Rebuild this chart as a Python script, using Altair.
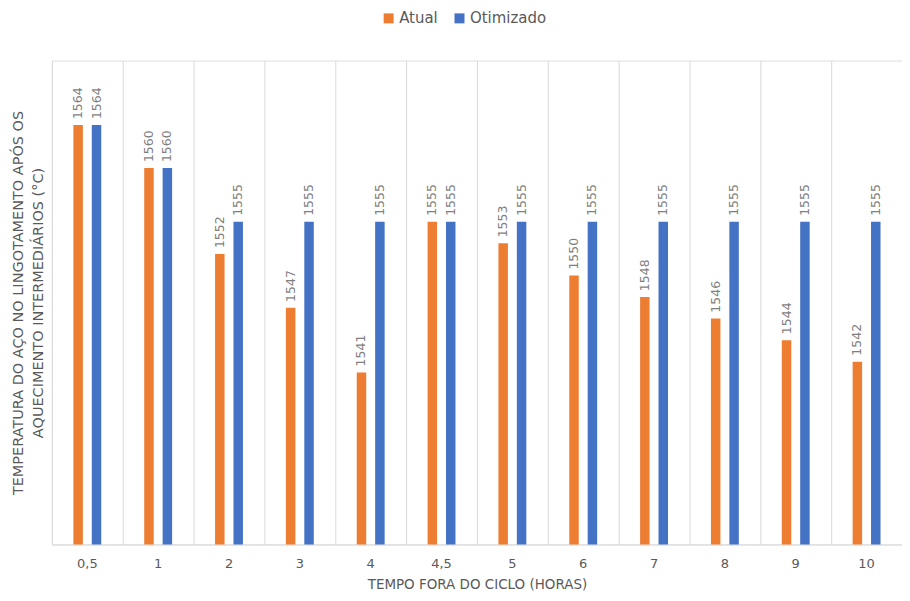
import altair as alt
import pandas as pd

categories = ["0,5", "1", "2", "3", "4", "4,5", "5", "6", "7", "8", "9", "10"]
atual = [1564, 1560, 1552, 1547, 1541, 1555, 1553, 1550, 1548, 1546, 1544, 1542]
otimizado = [1564, 1560, 1555, 1555, 1555, 1555, 1555, 1555, 1555, 1555, 1555, 1555]
series = ["Atual", "Otimizado"]
colors = ["#ED7D31", "#4472C4"]
y_min, y_max = 1525, 1570

rows = []
for i, c in enumerate(categories):
    rows.append({"cat": c, "serie": "Atual", "val": atual[i]})
    rows.append({"cat": c, "serie": "Otimizado", "val": otimizado[i]})
df = pd.DataFrame(rows)

STEP = 71
H = 485
FONT = "DejaVu Sans"
GRAY = "#595959"

x_enc = alt.X(
    "cat:N",
    sort=categories,
    scale=alt.Scale(paddingInner=0, paddingOuter=0),
    axis=alt.Axis(
        title="TEMPO FORA DO CICLO (HORAS)",
        labelAngle=0,
        labelFont=FONT,
        labelFontSize=13,
        labelColor=GRAY,
        labelPadding=13,
        titleFont=FONT,
        titleFontSize=13.5,
        titleFontWeight="normal",
        titleColor=GRAY,
        titlePadding=7,
        ticks=False,
        grid=True,
        gridColor="#D9D9D9",
        bandPosition=0,
        domainColor="#D9D9D9",
    ),
)
xoff = alt.XOffset(
    "serie:N",
    sort=series,
    scale=alt.Scale(paddingInner=0.15, paddingOuter=1),
)
y_enc = alt.Y(
    "val:Q",
    scale=alt.Scale(domain=[y_min, y_max], nice=False, zero=False),
    axis=alt.Axis(
        title=["TEMPERATURA DO AÇO  NO LINGOTAMENTO APÓS OS", "AQUECIMENTO INTERMEDIÁRIOS (°C)"],
        labels=False,
        ticks=False,
        domain=False,
        grid=False,
        titleFont=FONT,
        titleFontSize=14.5,
        titleFontWeight="normal",
        titleColor=GRAY,
        titlePadding=6,
        titleLineHeight=20,
    ),
)
color_enc = alt.Color(
    "serie:N",
    sort=series,
    scale=alt.Scale(domain=series, range=colors),
    legend=alt.Legend(
        title=None,
        orient="none",
        legendX=330,
        legendY=-50,
        direction="horizontal",
        symbolType="square",
        symbolSize=100,
        symbolStrokeWidth=0,
        labelFont=FONT,
        labelFontSize=15,
        labelColor=GRAY,
        columnPadding=14,
        labelOffset=3,
    ),
)

base = alt.Chart(df).encode(x=x_enc, xOffset=xoff, y=y_enc)

bars = base.mark_bar(size=9.5).encode(color=color_enc, y2=alt.datum(y_min))
labels = base.mark_text(
    angle=270, align="left", baseline="middle", dx=6, font=FONT, fontSize=12.5, color="#7F7F7F"
).encode(text="val:Q")

chart = (
    alt.layer(bars, labels)
    .properties(
        width=STEP * 12,
        height=H,
        padding={"left": 44, "top": 52, "right": 0, "bottom": 47},
        autosize=alt.AutoSizeParams(type="none"),
    )
    .configure_view(stroke=None)
    .configure(background="white")
)

chart.save("out.html", embed_options={"renderer": "svg", "actions": False})
